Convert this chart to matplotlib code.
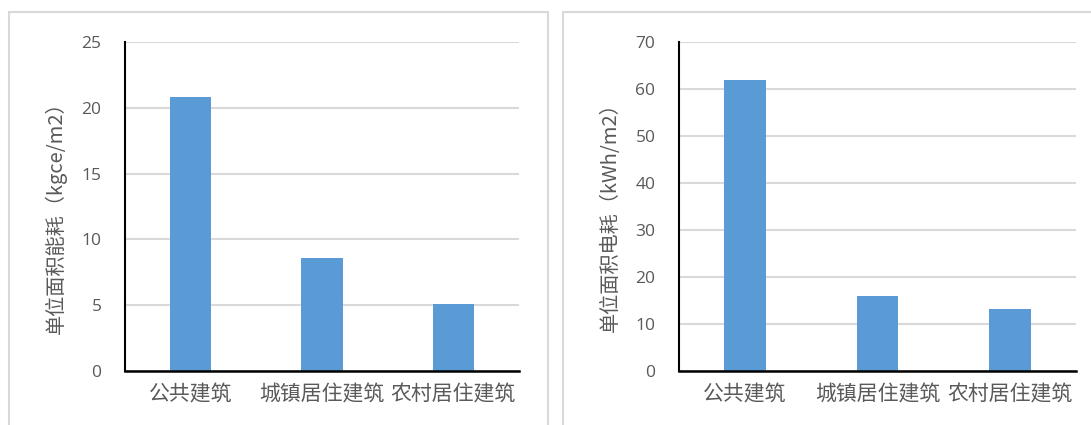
import matplotlib
matplotlib.use("Agg")
import matplotlib.pyplot as plt
from matplotlib.patches import Rectangle

plt.rcParams['font.family'] = ['Noto Sans CJK SC', 'DejaVu Sans']

categories = ["公共建筑", "城镇居住建筑", "农村居住建筑"]
energy_values = [20.8, 8.6, 5.1]
power_values = [62.0, 15.9, 13.2]
energy_ticks = [0, 5, 10, 15, 20, 25]
power_ticks = [0, 10, 20, 30, 40, 50, 60, 70]
energy_label = "单位面积能耗（kgce/m2）"
power_label = "单位面积电耗（kWh/m2）"

W, H = 1091, 425
fig = plt.figure(figsize=(W / 100, H / 100), dpi=100)
fig.patch.set_facecolor("white")

bar_color = "#5B9BD5"
grid_color = "#D9D9D9"
text_color = "#595959"

# panel borders
for x0, x1 in [(9, 548), (563, 1100)]:
    fig.patches.append(Rectangle((x0 / W, -0.05), (x1 - x0) / W, (H - 12) / H + 0.05,
                                 transform=fig.transFigure, fill=False,
                                 edgecolor=grid_color, linewidth=1.5, clip_on=False))

def make_panel(rect, values, ticks, ylabel, label_x):
    ax = fig.add_axes(rect)
    x = range(len(categories))
    ax.bar(x, values, width=0.313, color=bar_color, zorder=3)
    ax.set_xlim(-0.5, len(categories) - 0.5)
    ax.set_ylim(ticks[0], ticks[-1])
    ax.set_yticks(ticks)
    ax.set_yticklabels([str(t) for t in ticks], fontsize=12.5, color=text_color,
                       family=['Open Sans', 'DejaVu Sans'])
    ax.set_xticks(list(x))
    ax.set_xticklabels(categories, fontsize=15, color=text_color)
    ax.tick_params(axis='y', length=0, pad=17)
    ax.tick_params(axis='x', length=0, pad=9)
    ax.grid(axis='y', color=grid_color, linewidth=1.5, zorder=0)
    for s in ['top', 'right']:
        ax.spines[s].set_visible(False)
    ax.spines['left'].set_linewidth(1.5)
    ax.spines['bottom'].set_linewidth(1.8)
    ax.spines['left'].set_zorder(4)
    ax.spines['bottom'].set_zorder(4)
    ax.set_ylabel(ylabel, fontsize=14.5, color=text_color)
    ax.yaxis.set_label_coords(label_x, 0.5, transform=fig.transFigure)
    return ax

bottom = (H - 371) / H
top = (H - 42) / H
make_panel([125 / W, bottom, (519 - 125) / W, top - bottom], energy_values, energy_ticks,
           energy_label, 67 / W)
make_panel([679 / W, bottom, (1076 - 679) / W, top - bottom], power_values, power_ticks,
           power_label, 621 / W)

fig.savefig("out.png", dpi=100, facecolor="white")
